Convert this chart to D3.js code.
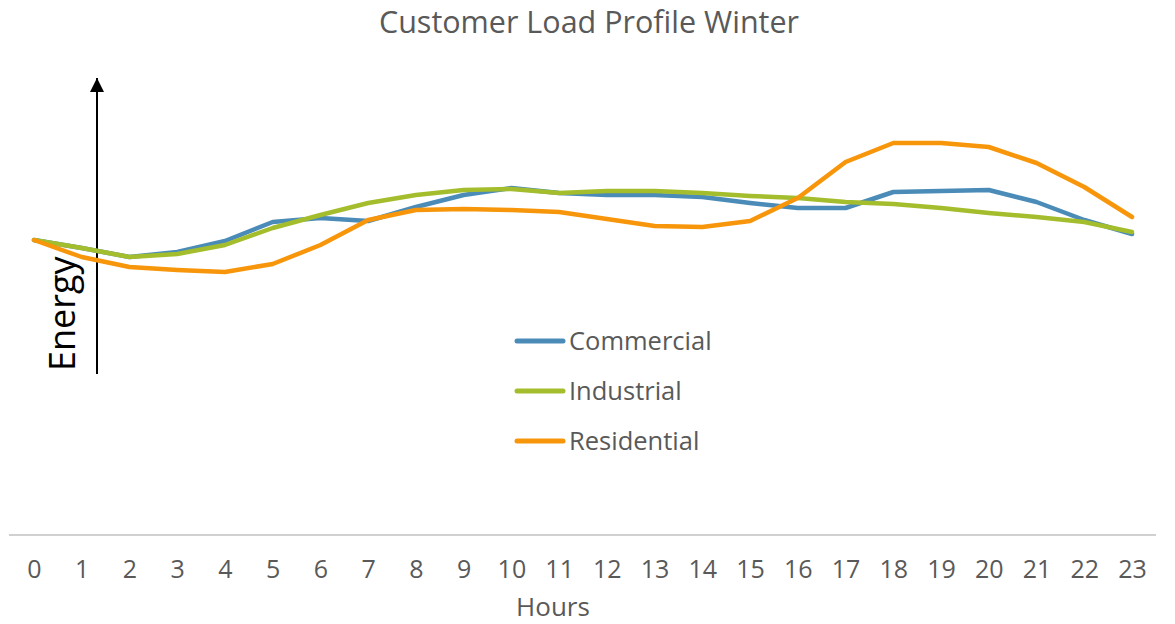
<!DOCTYPE html>
<html>
<head>
<meta charset="utf-8">
<script src="https://cdn.jsdelivr.net/npm/d3@7"></script>
<style>
  html, body { margin: 0; padding: 0; background: #fff; }
  svg { display: block; font-family: "Open Sans", "Noto Sans", sans-serif; }
</style>
</head>
<body>
<svg id="chart" width="1175" height="624"></svg>
<script>
// ── Data ──────────────────────────────────────────────
const hours = d3.range(0, 24);
const hourLabels = hours.map(String);

const commercial  = [29.5, 28.7, 27.8, 28.3, 29.4, 31.3, 31.7, 31.4, 32.8, 34.0, 34.7, 34.2,
                     34.0, 34.0, 33.8, 33.2, 32.7, 32.7, 34.3, 34.4, 34.5, 33.3, 31.5, 30.1];
const industrial  = [29.5, 28.7, 27.8, 28.1, 29.0, 30.7, 32.0, 33.2, 34.0, 34.5, 34.6, 34.2,
                     34.4, 34.4, 34.2, 33.9, 33.7, 33.3, 33.1, 32.7, 32.2, 31.8, 31.3, 30.3];
const residential = [29.5, 27.8, 26.8, 26.5, 26.3, 27.1, 29.0, 31.5, 32.5, 32.6, 32.5, 32.3,
                     31.6, 30.9, 30.8, 31.4, 33.7, 37.3, 39.2, 39.2, 38.8, 37.2, 34.8, 31.8];

const seriesNames  = ['Commercial', 'Industrial', 'Residential'];
const seriesValues = [commercial, industrial, residential];
const seriesColors = ['#4a8bb8', '#a4bd2c', '#f7960a'];

// ── Layout ────────────────────────────────────────────
const svg = d3.select('#chart');

const x = d3.scalePoint()
  .domain(hours)
  .range([34, 1132]);

const y = d3.scaleLinear()
  .domain([0, 40])
  .range([535, 135]);

// Title
svg.append('text')
  .attr('x', 589).attr('y', 33)
  .attr('text-anchor', 'middle')
  .attr('fill', '#595959')
  .attr('font-size', 30.5)
  .text('Customer Load Profile Winter');

// X axis (baseline + labels only)
svg.append('line')
  .attr('x1', 9).attr('x2', 1156)
  .attr('y1', y(0)).attr('y2', y(0))
  .attr('stroke', '#c0c0c0')
  .attr('stroke-width', 1.5);

const xAxis = d3.axisBottom(x)
  .tickSize(0)
  .tickPadding(0)
  .tickFormat((d, i) => hourLabels[i]);

const gx = svg.append('g')
  .attr('transform', `translate(0,${y(0) + 25})`)
  .call(xAxis);
gx.select('.domain').remove();
gx.selectAll('text')
  .attr('fill', '#595959')
  .attr('font-size', 25)
  .attr('font-family', '"Open Sans", "Noto Sans", sans-serif');

svg.append('text')
  .attr('x', 553).attr('y', 616)
  .attr('text-anchor', 'middle')
  .attr('fill', '#595959')
  .attr('font-size', 26)
  .text('Hours');

// Energy arrow
const defs = svg.append('defs');
defs.append('marker')
  .attr('id', 'arrow')
  .attr('viewBox', '0 0 10 10')
  .attr('refX', 10).attr('refY', 5)
  .attr('markerUnits', 'userSpaceOnUse')
  .attr('markerWidth', 16).attr('markerHeight', 14)
  .attr('orient', 'auto')
  .append('path')
  .attr('d', 'M0,0 L10,5 L0,10 Z')
  .attr('fill', '#000');

svg.append('line')
  .attr('x1', 97).attr('x2', 97)
  .attr('y1', 374).attr('y2', 78)
  .attr('stroke', '#000')
  .attr('stroke-width', 2)
  .attr('marker-end', 'url(#arrow)');

svg.append('text')
  .attr('transform', 'translate(75,371) rotate(-90)')
  .attr('fill', '#000')
  .attr('font-size', 36)
  .text('Energy');

// ── Lines ─────────────────────────────────────────────
const line = d3.line()
  .x((d, i) => x(hours[i]))
  .y(d => y(d));

svg.append('g')
  .selectAll('path')
  .data(seriesValues)
  .join('path')
  .attr('d', line)
  .attr('fill', 'none')
  .attr('stroke', (d, i) => seriesColors[i])
  .attr('stroke-width', 4.5)
  .attr('stroke-linejoin', 'round')
  .attr('stroke-linecap', 'round');

// ── Legend ────────────────────────────────────────────
const legend = svg.append('g')
  .selectAll('g')
  .data(seriesNames)
  .join('g')
  .attr('transform', (d, i) => `translate(517,${341 + i * 50})`);

legend.append('line')
  .attr('x1', 0).attr('x2', 46)
  .attr('stroke', (d, i) => seriesColors[i])
  .attr('stroke-width', 5)
  .attr('stroke-linecap', 'round');

legend.append('text')
  .attr('x', 52).attr('dy', '0.35em')
  .attr('fill', '#595959')
  .attr('font-size', 25.5)
  .text(d => d);
</script>
</body>
</html>
